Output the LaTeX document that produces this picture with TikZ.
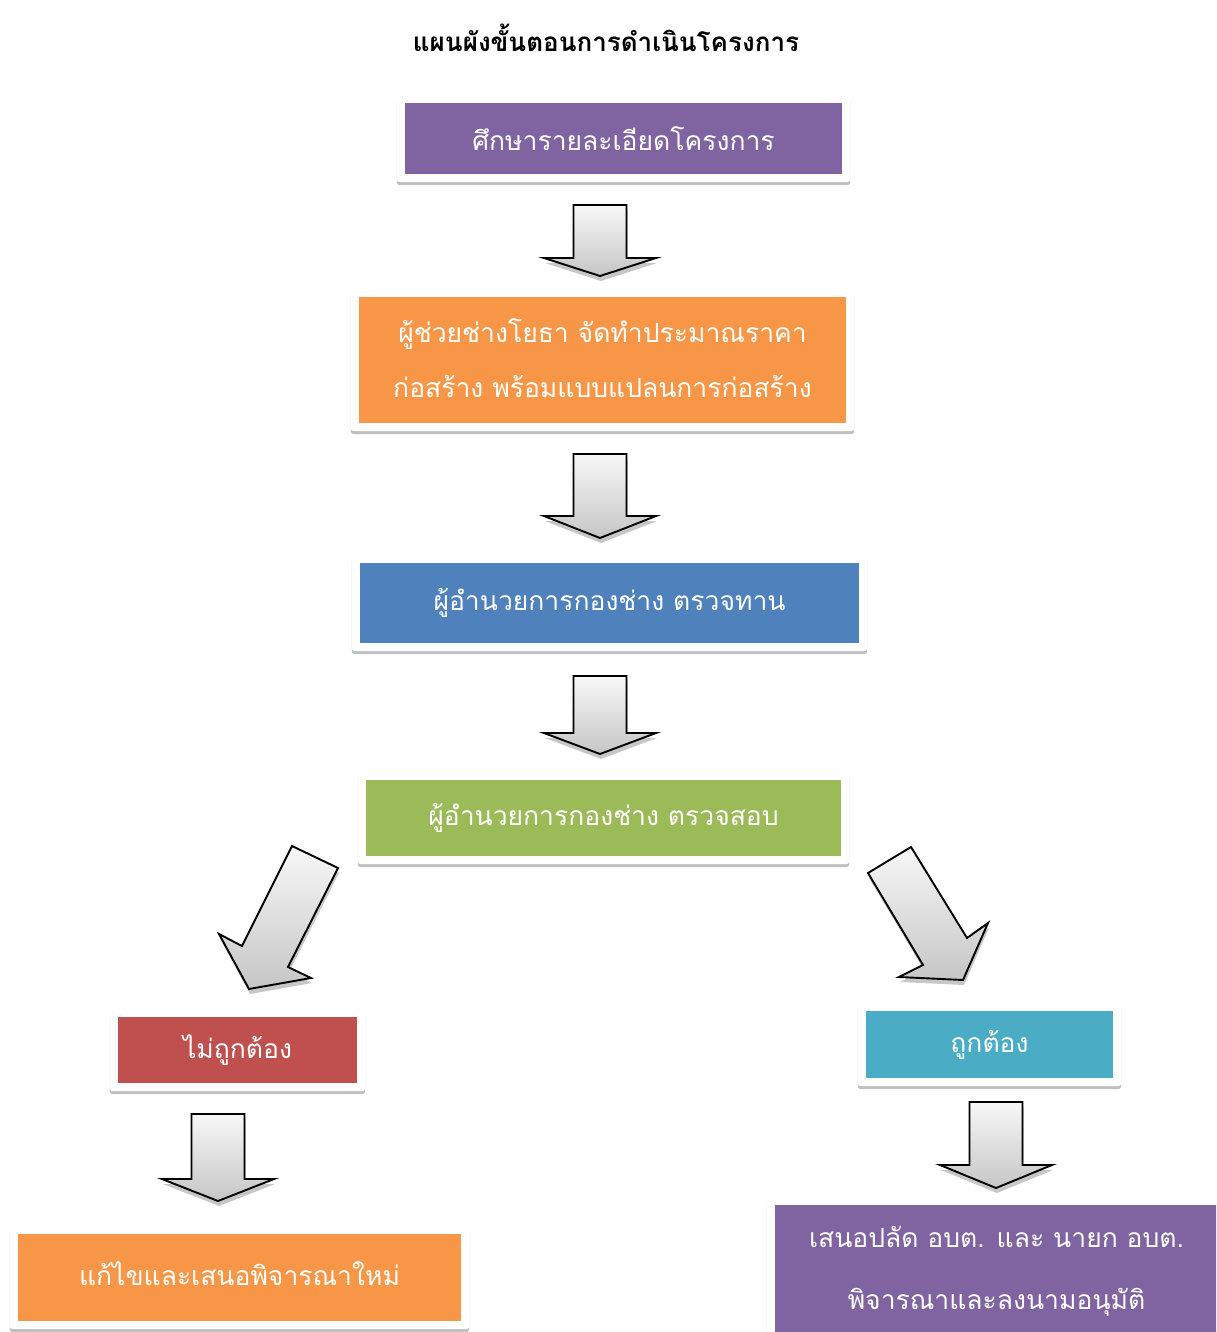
\documentclass[tikz,border=0pt]{standalone}
\usepackage{fontspec}
\newfontfamily\thaifont[Script=Thai]{Loma}
\usetikzlibrary{shadows,backgrounds}
\definecolor{cpurple}{HTML}{8064A2}
\definecolor{corange}{HTML}{F79646}
\definecolor{cblue}{HTML}{4F81BD}
\definecolor{cgreen}{HTML}{9BBB59}
\definecolor{cred}{HTML}{C0504D}
\definecolor{cteal}{HTML}{4BACC6}
\newcommand\dnblockarrow[4]{%
  \path[blockarrow] (#1-26.5,#2) -- (#1+26.5,#2) -- (#1+26.5,#3) -- (#1+56,#3) -- (#1,#4) -- (#1-56,#3) -- (#1-26.5,#3) -- cycle;}
\begin{document}
\begin{tikzpicture}[x=1pt,y=-1pt,
  box/.style={fill=#1, text=white, font=\thaifont\fontsize{26.5}{55}\selectfont, align=center, inner sep=0pt},
  blockarrow/.style={draw=black, line width=1.9pt, line join=miter, top color=gray!6, bottom color=gray!45,
    drop shadow={shadow xshift=1pt, shadow yshift=-5pt, opacity=0.22, fill=black}},
  framebox/.style={fill=white, rounded corners=3pt,
    drop shadow={shadow xshift=0pt, shadow yshift=-3pt, opacity=0.25, fill=black}},
]
\clip (0,0) rectangle (1216,1332);

\node[font=\thaifont\bfseries\fontsize{26}{30}\selectfont] (title) at (606,38) {แผนผังขั้นตอนการดำเนินโครงการ};

\node[box=cpurple, minimum width=437pt, minimum height=71pt] (n1) at (623.5,138.5) {ศึกษารายละเอียดโครงการ};
\node[box=corange, minimum width=487pt, minimum height=126pt] (n2) at (602.5,360) {\raisebox{3pt}{ผู้ช่วยช่างโยธา จัดทำประมาณราคา}\\\raisebox{3pt}{ก่อสร้าง พร้อมแบบแปลนการก่อสร้าง}};
\node[box=cblue, minimum width=499pt, minimum height=80pt] (n3) at (609.5,603) {ผู้อำนวยการกองช่าง ตรวจทาน};
\node[box=cgreen, minimum width=475pt, minimum height=76pt] (n4) at (603.5,818) {ผู้อำนวยการกองช่าง ตรวจสอบ};
\node[box=cred, minimum width=239pt, minimum height=66pt] (n5) at (237.5,1050) {ไม่ถูกต้อง};
\node[box=cteal, minimum width=247pt, minimum height=67pt] (n6) at (989.5,1044.5) {ถูกต้อง};
\node[box=corange, minimum width=443pt, minimum height=87pt] (n7) at (239.5,1277.5) {\raisebox{8pt}{แก้ไขและเสนอพิจารณาใหม่}};
\node[box=cpurple, minimum width=443pt, minimum height=132pt, font=\thaifont\fontsize{26.5}{62}\selectfont] (n8) at (996.5,1271) {เสนอปลัด อบต. และ นายก อบต.\\พิจารณาและลงนามอนุมัติ};

\begin{scope}[on background layer]
\fill[white] (0,0) rectangle (1216,1332);
\foreach \n in {n1,n2,n3,n4,n5,n6,n7,n8}
  \path[framebox] ([shift={(-8,-8)}]\n.north west) rectangle ([shift={(8,8)}]\n.south east);
\end{scope}

\dnblockarrow{600}{205}{258}{276}
\dnblockarrow{600}{454}{516}{538}
\dnblockarrow{600}{676}{733}{754}
\dnblockarrow{218}{1114}{1179}{1201}
\dnblockarrow{996}{1102}{1165}{1188}

\path[blockarrow] (292,846) -- (338,868) -- (288,967) -- (311,978) -- (249,989) -- (219,934) -- (242,946) -- cycle;
\path[blockarrow] (868,873) -- (911,847) -- (967,938) -- (988,923) -- (963,980) -- (899,977) -- (923,965) -- cycle;
\end{tikzpicture}
\end{document}
